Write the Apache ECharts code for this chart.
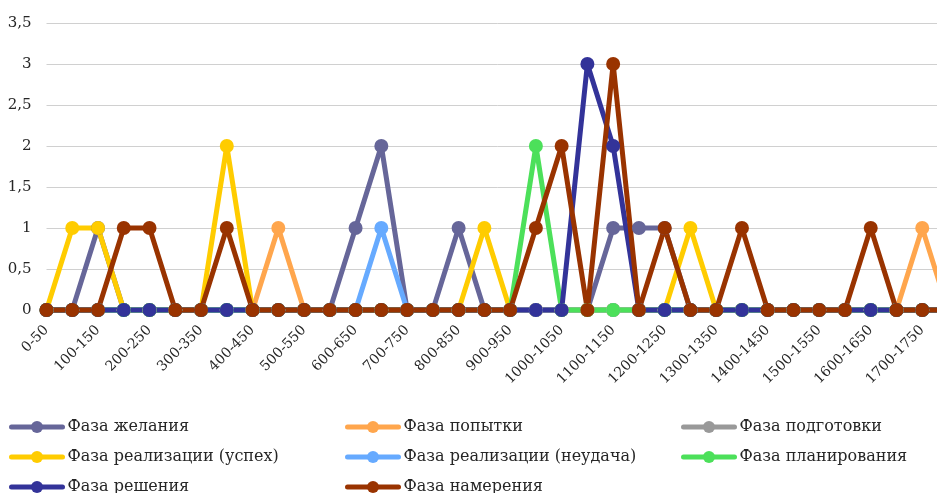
<!DOCTYPE html>
<html>
<head>
<meta charset="utf-8">
<script src="https://cdn.jsdelivr.net/npm/echarts@6/dist/echarts.min.js"></script>
<style>
html,body{margin:0;padding:0;background:#fff;overflow:hidden;}
#c{width:948px;height:493px;}
</style>
</head>
<body>
<div id="c"></div>
<script>
const categories = ['0-50','50-100','100-150','150-200','200-250','250-300','300-350','350-400','400-450','450-500','500-550','550-600','600-650','650-700','700-750','750-800','800-850','850-900','900-950','950-1000','1000-1050','1050-1100','1100-1150','1150-1200','1200-1250','1250-1300','1300-1350','1350-1400','1400-1450','1450-1500','1500-1550','1550-1600','1600-1650','1650-1700','1700-1750','1750-1800'];
const yTicks = [0, 0.5, 1, 1.5, 2, 2.5, 3, 3.5];

const desire      = [0,0,1,0,0,0,0,0,0,0,0,0,1,2,0,0,1,0,0,0,0,0,1,1,1,0,0,0,0,0,0,0,0,0,0,0];
const attempt     = [0,0,0,0,0,0,0,0,0,1,0,0,0,0,0,0,0,0,0,0,0,0,0,0,0,0,0,0,0,0,0,0,0,0,1,0];
const preparation = [0,0,0,0,0,0,0,0,0,0,0,0,0,0,0,0,0,0,0,0,0,0,0,0,0,0,0,0,0,0,0,0,0,0,0,0];
const success     = [0,1,1,0,0,0,0,2,0,0,0,0,0,0,0,0,0,1,0,0,0,0,0,0,0,1,0,0,0,0,0,0,0,0,0,0];
const failure     = [0,0,0,0,0,0,0,0,0,0,0,0,0,1,0,0,0,0,0,0,0,0,0,0,0,0,0,0,0,0,0,0,0,0,0,0];
const planning    = [0,0,0,0,0,0,0,0,0,0,0,0,0,0,0,0,0,0,0,2,0,0,0,0,0,0,0,0,0,0,0,0,0,0,0,0];
const decision    = [0,0,0,0,0,0,0,0,0,0,0,0,0,0,0,0,0,0,0,0,0,3,2,0,0,0,0,0,0,0,0,0,0,0,0,0];
const intention   = [0,0,0,1,1,0,0,1,0,0,0,0,0,0,0,0,0,0,0,1,2,0,3,0,1,0,0,1,0,0,0,0,1,0,0,0];

const names = ['Фаза желания','Фаза попытки','Фаза подготовки','Фаза реализации (успех)','Фаза реализации (неудача)','Фаза планирования','Фаза решения','Фаза намерения'];
const colors = ['#666699','#FFA64D','#999999','#FFCC00','#66AAFF','#4CE05A','#333399','#993300'];
const values = [desire, attempt, preparation, success, failure, planning, decision, intention];

const FONT = 'DejaVu Serif';
const chart = echarts.init(document.getElementById('c'), null, {renderer:'canvas'});

// legend grid: 3 columns, rows
const legendCols = [9, 345, 681];
const legendRows = [419, 449, 479];
const legendPos = [[0,0],[1,0],[2,0],[0,1],[1,1],[2,1],[0,2],[1,2]];

const legends = names.map((n, i) => ({
  data: [n], left: legendCols[legendPos[i][0]], top: legendRows[legendPos[i][1]],
  itemWidth: 51, itemHeight: 15, padding: 0, selectedMode: false,
  lineStyle: {width: 5, cap: 'round'},
  textStyle: {fontFamily: FONT, fontSize: 16, color: '#262626'}
}));

chart.setOption({
  animation: false,
  backgroundColor: '#fff',
  color: colors,
  grid: {left: 46.5, right: 0, top: 23, bottom: 183, containLabel: false},
  legend: legends,
  xAxis: {
    type: 'category', data: categories, boundaryGap: false,
    axisTick: {show: false},
    axisLine: {show: true, lineStyle: {color: '#D9D9D9'}},
    axisLabel: {interval: 1, rotate: 45, margin: 18, fontFamily: FONT, fontSize: 14, color: '#262626'}
  },
  yAxis: {
    type: 'value', min: 0, max: 3.5, interval: 0.5,
    axisLine: {show: false}, axisTick: {show: false},
    splitLine: {lineStyle: {color: '#D0D0D0', width: 1}},
    axisLabel: {margin: 15, fontFamily: FONT, fontSize: 15, color: '#262626',
      formatter: v => String(v).replace('.', ',')}
  },
  series: names.map((n, i) => ({
    name: n, type: 'line', data: values[i],
    symbol: 'circle', symbolSize: 14,
    lineStyle: {width: 5, color: colors[i]},
    itemStyle: {color: colors[i]},
    clip: false
  }))
});
</script>
</body>
</html>
